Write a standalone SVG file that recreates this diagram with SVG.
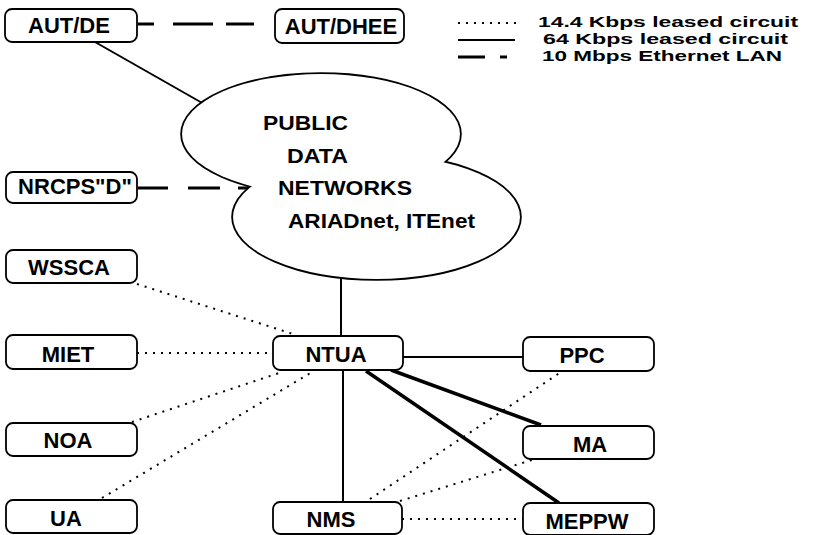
<svg xmlns="http://www.w3.org/2000/svg" width="813" height="535" viewBox="0 0 813 535">
<style>
.box{fill:#fff;stroke:#000;stroke-width:1.8}
.t{font-family:"Liberation Sans",Arial,sans-serif;font-weight:bold;font-size:22px;fill:#000;text-anchor:middle}
.ct{font-family:"Liberation Sans",Arial,sans-serif;font-weight:bold;font-size:21px;fill:#000}
.lt{font-family:"Liberation Sans",Arial,sans-serif;font-weight:bold;font-size:15px;fill:#000}
.solid{stroke:#000;stroke-width:2;fill:none}
.thick{stroke:#000;stroke-width:3.5;fill:none}
.dot{stroke:#000;stroke-width:2;fill:none;stroke-dasharray:2 6}
.dash{stroke:#000;stroke-width:3.2;fill:none}
</style>
<rect width="813" height="535" fill="#fff"/>
<g id="connectors">
  <path class="dash" d="M138 24 H154 M173 24 H213 M226 24 H254"/>
  <path class="solid" d="M95 42 L204 104"/>
  <path class="dash" d="M138 188 H168 M188 188 H220 M238 188 H249"/>
  <path class="solid" d="M341 276 V336"/>
  <path class="dot" d="M137 284 L293 334"/>
  <path class="dot" d="M137 353 H273"/>
  <path class="dot" d="M132 422 L282 372"/>
  <path class="dot" d="M102 498 L312 372"/>
  <path class="solid" d="M343 370 V502"/>
  <path class="solid" d="M403 357 H523"/>
  <path class="thick" d="M391 370 L541 425"/>
  <path class="thick" d="M366 371 L559 503"/>
  <path class="dot" d="M370 499 L561 372"/>
  <path class="dot" d="M400 501 L535 459"/>
  <path class="dot" d="M402 519 H523"/>
</g>
<g id="cloud">
  <ellipse cx="321" cy="134" rx="139" ry="60" fill="#fff" stroke="#000" stroke-width="3.6"/>
  <ellipse cx="376.5" cy="217" rx="143.5" ry="62" fill="#fff" stroke="#000" stroke-width="3.6"/>
  <ellipse cx="321" cy="134" rx="139" ry="60" fill="#fff"/>
  <ellipse cx="376.5" cy="217" rx="143.5" ry="62" fill="#fff"/>
  <text class="ct" x="263" y="130" textLength="85" lengthAdjust="spacingAndGlyphs">PUBLIC</text>
  <text class="ct" x="287" y="163" textLength="61" lengthAdjust="spacingAndGlyphs">DATA</text>
  <text class="ct" x="278" y="195" textLength="134" lengthAdjust="spacingAndGlyphs">NETWORKS</text>
  <text class="ct" x="288" y="228" textLength="187" lengthAdjust="spacingAndGlyphs">ARIADnet, ITEnet</text>
</g>
<g id="aut-de"><rect class="box" x="5" y="9" width="132" height="33" rx="7"/><text class="t" x="69" y="33">AUT/DE</text></g>
<g id="aut-dhee"><rect class="box" x="275" y="9" width="129" height="34" rx="7"/><text class="t" x="341" y="34">AUT/DHEE</text></g>
<g id="nrcps"><rect class="box" x="6" y="172" width="131" height="31" rx="7"/><text class="t" x="75" y="194">NRCPS"D"</text></g>
<g id="wssca"><rect class="box" x="6" y="250" width="131" height="33" rx="7"/><text class="t" x="69" y="275">WSSCA</text></g>
<g id="miet"><rect class="box" x="6" y="335" width="131" height="34" rx="7"/><text class="t" x="68" y="362">MIET</text></g>
<g id="ntua"><rect class="box" x="273" y="336" width="130" height="34" rx="7"/><text class="t" x="336" y="362">NTUA</text></g>
<g id="noa"><rect class="box" x="6" y="423" width="131" height="33" rx="7"/><text class="t" x="68" y="448">NOA</text></g>
<g id="ua"><rect class="box" x="6" y="500" width="131" height="33" rx="7"/><text class="t" x="66" y="526">UA</text></g>
<g id="nms"><rect class="box" x="273" y="502" width="129" height="32" rx="7"/><text class="t" x="331" y="527">NMS</text></g>
<g id="ppc"><rect class="box" x="523" y="337" width="131" height="34" rx="7"/><text class="t" x="582" y="363">PPC</text></g>
<g id="ma"><rect class="box" x="523" y="426" width="131" height="33" rx="7"/><text class="t" x="590" y="452">MA</text></g>
<g id="meppw"><rect class="box" x="523" y="503" width="131" height="32" rx="7"/><text class="t" x="587" y="529">MEPPW</text></g>
<g id="legend">
  <path class="dot" d="M458 23 H516" stroke-width="1.6"/>
  <path class="solid" d="M458 40 H515"/>
  <path class="dash" d="M458 57 H485 M500 57 H507"/>
  <text class="lt" x="538" y="27" textLength="260" lengthAdjust="spacingAndGlyphs">14.4 Kbps leased circuit</text>
  <text class="lt" x="543" y="44" textLength="245" lengthAdjust="spacingAndGlyphs">64 Kbps leased circuit</text>
  <text class="lt" x="542" y="61" textLength="240" lengthAdjust="spacingAndGlyphs">10 Mbps Ethernet LAN</text>
</g>
</svg>
